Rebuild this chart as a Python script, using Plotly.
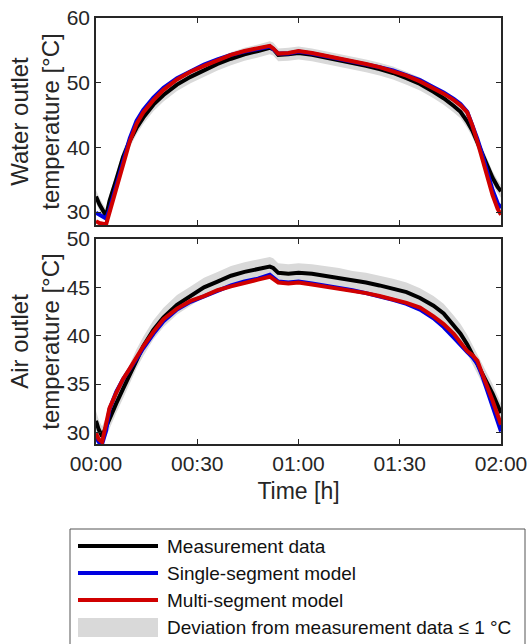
import plotly.graph_objects as go
from plotly.subplots import make_subplots

# ---------------- data (time in minutes) ----------------
time_water = [0, 1, 3, 4, 6, 8, 10, 12, 14, 17, 20, 24, 28, 32, 36, 40, 44, 48, 51.5, 52.5,
              54, 57, 60, 64, 68, 72, 76, 80, 84, 88, 92, 96, 100, 103, 106, 108, 110,
              111.5, 113, 114.5, 116, 117.5, 119, 120]
water_meas = [32.4, 31.2, 29.4, 31.7, 35.0, 38.5, 41.0, 43.0, 44.6, 46.6, 48.1, 49.7, 50.9,
              51.9, 52.9, 53.7, 54.4, 54.9, 55.4, 55.2, 54.3, 54.4, 54.6, 54.3, 53.9, 53.5,
              53.1, 52.6, 52.1, 51.5, 50.7, 49.8, 48.6, 47.6, 46.4, 45.5, 44.0, 42.6, 40.8,
              38.9, 37.0, 35.3, 33.9, 33.2]
water_single = [29.9, 29.6, 29.0, 30.4, 34.0, 37.8, 41.4, 44.1, 45.8, 47.7, 49.2, 50.7, 51.8,
                52.8, 53.6, 54.3, 54.8, 55.2, 55.6, 55.2, 54.5, 54.5, 54.8, 54.5, 54.1, 53.7,
                53.3, 52.9, 52.4, 51.9, 51.2, 50.4, 49.3, 48.5, 47.5, 46.7, 45.5, 43.6, 41.3,
                38.8, 36.0, 33.4, 31.4, 30.6]
water_multi = [28.6, 28.3, 28.1, 29.9, 33.3, 37.2, 40.9, 43.6, 45.4, 47.3, 48.9, 50.5, 51.7,
               52.6, 53.5, 54.3, 54.9, 55.3, 55.7, 55.3, 54.5, 54.6, 54.9, 54.6, 54.2, 53.8,
               53.4, 52.9, 52.4, 51.8, 51.1, 50.2, 49.1, 48.3, 47.3, 46.5, 45.4, 43.4, 40.9,
               38.2, 35.3, 32.6, 30.5, 29.6]

time_air = [0, 0.8, 1.8, 3, 4, 6, 8, 10, 12, 14, 17, 20, 24, 28, 32, 36, 40, 44, 48, 51.5,
            52.5, 54, 57, 60, 64, 68, 72, 76, 80, 84, 88, 92, 96, 100, 103, 106, 108, 110,
            111.5, 113, 114.5, 116, 117.5, 119, 120]
air_meas = [31.2, 30.3, 29.6, 30.6, 31.5, 33.0, 34.5, 36.0, 37.6, 38.9, 40.6, 41.9, 43.2,
            44.1, 45.0, 45.6, 46.2, 46.6, 46.9, 47.15, 47.0, 46.5, 46.4, 46.5, 46.4, 46.2,
            46.0, 45.7, 45.5, 45.2, 44.9, 44.5, 43.9, 43.1, 42.3, 41.1, 40.2, 39.1, 38.1,
            37.1, 36.1, 35.0, 34.0, 32.8, 32.0]
air_single = [29.5, 29.0, 28.8, 30.2, 32.4, 34.2, 35.5, 36.5, 37.6, 38.7, 40.2, 41.5, 42.7,
              43.5, 44.1, 44.7, 45.2, 45.6, 45.9, 46.3, 46.0, 45.6, 45.5, 45.6, 45.4, 45.2,
              45.0, 44.7, 44.4, 44.1, 43.7, 43.3, 42.7, 41.8, 40.9, 39.8, 39.0, 38.3, 37.8,
              37.1, 35.8, 34.3, 32.8, 31.2, 30.1]
air_multi = [29.9, 29.3, 29.0, 31.0, 32.5, 34.1, 35.5, 36.6, 37.8, 38.9, 40.4, 41.7, 42.8,
             43.6, 44.1, 44.7, 45.1, 45.5, 45.8, 46.1, 45.9, 45.5, 45.4, 45.5, 45.3, 45.1,
             44.9, 44.7, 44.4, 44.1, 43.8, 43.4, 42.9, 42.0, 41.2, 40.2, 39.3, 38.4, 38.0,
             37.4, 36.0, 34.7, 33.3, 31.8, 30.8]

deviation = 1.0
tick_vals = [0, 30, 60, 90, 120]
tick_text = ["00:00", "00:30", "01:00", "01:30", "02:00"]
legend_names = ["Measurement data", "Single-segment model", "Multi-segment model",
                "Deviation from measurement data ≤ 1 °C"]

# ---------------- style ----------------
W, H = 529, 644
ML, MR, MT, MB = 96, 28, 18, 200
PW, PH = W - ML - MR, H - MT - MB
FONT = "Arial, Liberation Sans, sans-serif"
AX = "#262626"
C_MEAS, C_SINGLE, C_MULTI, C_BAND = "#000000", "#0000E0", "#D00000", "#D9D9D9"
LW = 4

fig = make_subplots(rows=2, cols=1, shared_xaxes=False, vertical_spacing=0.0)


def add_panel(row, t, meas, single, multi):
    upper = [v + deviation for v in meas]
    lower = [v - deviation for v in meas]
    fig.add_trace(go.Scatter(x=t, y=upper, mode="lines", line=dict(width=0, color=C_BAND),
                             hoverinfo="skip", showlegend=False), row=row, col=1)
    fig.add_trace(go.Scatter(x=t, y=lower, mode="lines", line=dict(width=0, color=C_BAND),
                             fill="tonexty", fillcolor=C_BAND, name=legend_names[3],
                             showlegend=False), row=row, col=1)
    fig.add_trace(go.Scatter(x=t, y=meas, mode="lines", name=legend_names[0],
                             line=dict(color=C_MEAS, width=LW), showlegend=False), row=row, col=1)
    fig.add_trace(go.Scatter(x=t, y=single, mode="lines", name=legend_names[1],
                             line=dict(color=C_SINGLE, width=LW), showlegend=False), row=row, col=1)
    fig.add_trace(go.Scatter(x=t, y=multi, mode="lines", name=legend_names[2],
                             line=dict(color=C_MULTI, width=LW), showlegend=False), row=row, col=1)


add_panel(1, time_water, water_meas, water_single, water_multi)
add_panel(2, time_air, air_meas, air_single, air_multi)

axis_common = dict(showline=True, linecolor=AX, linewidth=1.6, mirror="ticks", ticks="inside",
                   ticklen=5, tickwidth=1.3, tickcolor=AX, showgrid=False, zeroline=False,
                   tickfont=dict(family=FONT, size=21, color=AX))

fig.update_xaxes(**axis_common, range=[0, 120], tickvals=tick_vals, ticktext=tick_text)
fig.update_xaxes(showticklabels=False, row=1, col=1)
fig.update_xaxes(title=dict(text="Time [h]", font=dict(family=FONT, size=23, color=AX), standoff=9),
                 row=2, col=1)
fig.update_yaxes(**axis_common)

top_lo = 1 - 207 / PH
bot_hi = 205 / PH
fig.update_layout(
    yaxis=dict(domain=[top_lo, 1], range=[28, 60], tickvals=[30, 40, 50, 60],
               title=dict(text="Water outlet<br>temperature [°C]",
                          font=dict(family=FONT, size=24, color=AX), standoff=0)),
    yaxis2=dict(domain=[0, bot_hi], range=[28.8, 50], tickvals=[30, 35, 40, 45, 50],
                title=dict(text="Air outlet<br>temperature [°C]",
                           font=dict(family=FONT, size=24, color=AX), standoff=0)),
)


def px_x(x):
    return (x - ML) / PW


def px_y(y):
    return (MT + PH - y) / PH


shapes = [dict(type="rect", xref="paper", yref="paper", x0=px_x(70), x1=px_x(525),
               y0=px_y(648), y1=px_y(529), line=dict(color="#555555", width=1),
               fillcolor="white", layer="above")]
annotations = []
rows_y = [546, 573, 600, 627]
for name, color, yy in zip(legend_names[:3], [C_MEAS, C_SINGLE, C_MULTI], rows_y[:3]):
    shapes.append(dict(type="line", xref="paper", yref="paper", x0=px_x(78), x1=px_x(158),
                       y0=px_y(yy), y1=px_y(yy), line=dict(color=color, width=4)))
shapes.append(dict(type="rect", xref="paper", yref="paper", x0=px_x(78), x1=px_x(158),
                   y0=px_y(637), y1=px_y(618), line=dict(width=0), fillcolor=C_BAND))
for name, yy in zip(legend_names, rows_y):
    annotations.append(dict(text=name, xref="paper", yref="paper", x=px_x(165), y=px_y(yy),
                            xanchor="left", yanchor="middle", showarrow=False,
                            font=dict(family=FONT, size=19, color="#111111")))

fig.update_layout(
    width=W, height=H, margin=dict(l=ML, r=MR, t=MT, b=MB, autoexpand=False),
    paper_bgcolor="white", plot_bgcolor="white", showlegend=False,
    shapes=shapes, annotations=annotations,
)

fig.write_html("out.html")
